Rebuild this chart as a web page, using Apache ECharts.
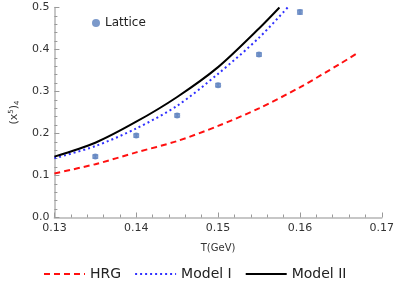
<!DOCTYPE html>
<html><head><meta charset="utf-8">
<script src="https://cdn.jsdelivr.net/npm/echarts@6/dist/echarts.min.js"></script>
<style>html,body{margin:0;padding:0;background:#fff}#c{width:397px;height:293px}</style>
</head><body><div id="c"></div>
<script>
var latticeT = [0.135, 0.14, 0.145, 0.15, 0.155, 0.16];
var latticeV = [0.145, 0.195, 0.243, 0.315, 0.388, 0.489];
var latticeErr = [0.004, 0.004, 0.004, 0.004, 0.004, 0.005];

var hrgT = [0.13, 0.135, 0.14, 0.145, 0.15, 0.155, 0.16, 0.165, 0.167];
var hrgV = [0.105, 0.127, 0.155, 0.182, 0.218, 0.260, 0.310, 0.367, 0.391];

var m1T = [0.13, 0.135, 0.14, 0.145, 0.15, 0.155, 0.1585];
var m1V = [0.141, 0.170, 0.212, 0.266, 0.342, 0.428, 0.50];

var m2T = [0.13, 0.135, 0.14, 0.145, 0.15, 0.155, 0.1575];
var m2V = [0.145, 0.178, 0.228, 0.287, 0.358, 0.450, 0.50];

function zip(a, b) { return a.map(function (v, i) { return [v, b[i]]; }); }

var chart = echarts.init(document.getElementById('c'), null, {renderer: 'canvas'});
var font = 'DejaVu Sans';
chart.setOption({
  animation: false,
  textStyle: {fontFamily: font},
  grid: {left: 44, right: 13, top: 7.5, bottom: 75.5, containLabel: false},
  legend: [{
    data: [{name: 'Lattice', icon: 'circle'}], left: 87, top: 12, itemWidth: 8, itemHeight: 8, itemGap: 6,
    textStyle: {fontSize: 12, color: '#222', fontFamily: font}
  }, {
    data: ['HRG', 'Model I', 'Model II'], left: 38, top: 262,
    itemWidth: 41, itemHeight: 10, itemGap: 13,
    itemStyle: {opacity: 0},
    textStyle: {fontSize: 14, color: '#222', fontFamily: font}
  }],
  xAxis: {
    type: 'value', min: 0.13, max: 0.17, interval: 0.01,
    name: 'T(GeV)', nameLocation: 'middle', nameGap: 26,
    nameTextStyle: {fontSize: 10, color: '#333'},
    axisLine: {lineStyle: {color: '#b5b5b5', width: 1.5}},
    axisTick: {inside: true, length: 5, lineStyle: {color: '#999'}},
    minorTick: {show: true, splitNumber: 5, length: 3, lineStyle: {color: '#999'}},
    splitLine: {show: false},
    axisLabel: {fontSize: 11, color: '#333', margin: 5, formatter: function (v) { return v.toFixed(2); }}
  },
  yAxis: {
    type: 'value', min: 0, max: 0.5, interval: 0.1,
    name: '{a|(x}{s|5}{a|)}{b|4}', nameLocation: 'middle', nameGap: 29, nameRotate: 90,
    nameTextStyle: {rich: {
      a: {fontSize: 11, color: '#333', fontFamily: font},
      s: {fontSize: 7, color: '#333', verticalAlign: 'top', padding: [0, 0, 6, 0], fontFamily: font},
      b: {fontSize: 7, color: '#333', verticalAlign: 'bottom', padding: [6, 0, 0, 0], fontFamily: font}
    }},
    axisLine: {show: true, lineStyle: {color: '#b5b5b5', width: 1.5}},
    axisTick: {show: true, inside: true, length: 5, lineStyle: {color: '#999'}},
    minorTick: {show: true, splitNumber: 5, length: 3, lineStyle: {color: '#999'}},
    splitLine: {show: false},
    minorSplitLine: {show: false},
    axisLabel: {fontSize: 11, color: '#333', margin: 5, formatter: function (v) { return v.toFixed(1); }}
  },
  series: [{
    name: 'HRG', type: 'line', data: zip(hrgT, hrgV), symbol: 'none', smooth: 0.3,
    lineStyle: {color: '#ff1010', width: 2, type: [6, 4]}, itemStyle: {color: '#ff1010'}
  }, {
    name: 'Model I', type: 'line', data: zip(m1T, m1V), symbol: 'none', smooth: 0.3,
    lineStyle: {color: '#3030ff', width: 2, type: [2, 3]}, itemStyle: {color: '#3030ff'}
  }, {
    name: 'Model II', type: 'line', data: zip(m2T, m2V), symbol: 'none', smooth: 0.3,
    lineStyle: {color: '#000', width: 2}, itemStyle: {color: '#000'}
  }, {
    name: 'LatticeErr', type: 'custom',
    data: latticeT.map(function (t, i) { return [t, latticeV[i] - latticeErr[i], latticeV[i] + latticeErr[i]]; }),
    renderItem: function (params, api) {
      var lo = api.coord([api.value(0), api.value(1)]);
      var hi = api.coord([api.value(0), api.value(2)]);
      var w = 3;
      var st = {stroke: '#9bb0dc', lineWidth: 1.5};
      return {type: 'group', children: [
        {type: 'line', shape: {x1: lo[0], y1: lo[1], x2: hi[0], y2: hi[1]}, style: st},
        {type: 'line', shape: {x1: lo[0] - w, y1: lo[1], x2: lo[0] + w, y2: lo[1]}, style: st},
        {type: 'line', shape: {x1: hi[0] - w, y1: hi[1], x2: hi[0] + w, y2: hi[1]}, style: st}
      ]};
    },
    z: 3
  }, {
    name: 'Lattice', type: 'scatter', data: zip(latticeT, latticeV), symbol: 'circle', symbolSize: 6,
    itemStyle: {color: '#5a7fbd'}, z: 4
  }]
});
</script></body></html>
